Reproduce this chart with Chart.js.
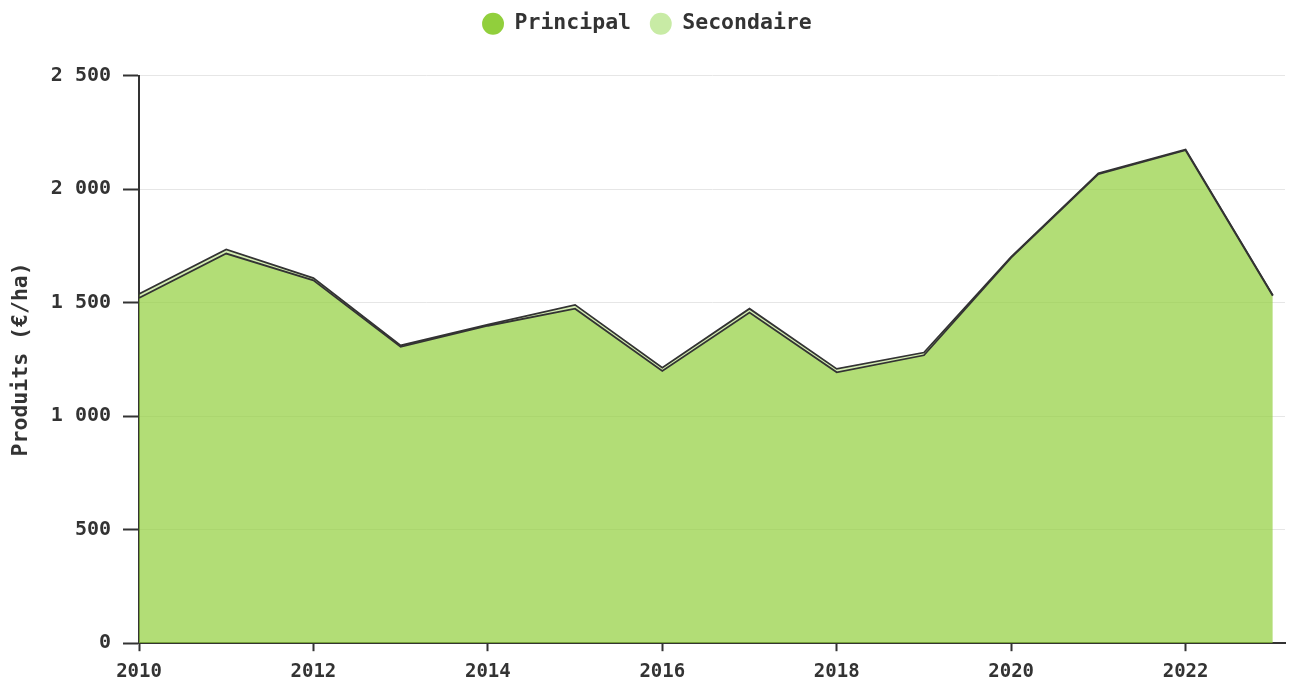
<!DOCTYPE html>
<html>
<head>
<meta charset="utf-8">
<script src="https://cdn.jsdelivr.net/npm/chart.js@4/dist/chart.umd.min.js"></script>
<style>
html,body{margin:0;padding:0;background:#fff;}
#wrap{width:1289px;height:681px;}
</style>
</head>
<body>
<div id="wrap"><canvas id="c" width="1289" height="681"></canvas></div>
<script>
const years = [2010,2011,2012,2013,2014,2015,2016,2017,2018,2019,2020,2021,2022,2023];
const principal = [1520,1716,1598,1305,1398,1473,1199,1456,1193,1268,1698,2066,2171,1530];
const secondaire = [18,18,10,6,5,17,14,17,15,12,3,3,3,2];
const yTicks = [0,500,1000,1500,2000,2500];
const xTicks = [2010,2012,2014,2016,2018,2020,2022];
const seriesNames = ['Principal','Secondaire'];
const legendColors = ['rgb(145,207,60)','rgb(200,235,165)'];

const FONT = '"DejaVu Sans Mono", monospace';
const fmt = v => String(v).replace(/\B(?=(\d{3})+(?!\d))/g, ' ');

const legendSpace = {
  id: 'legendSpace',
  beforeInit(chart) {
    const orig = chart.legend.fit;
    chart.legend.fit = function() {
      orig.call(this);
      this.height += 31;
    };
  }
};

new Chart(document.getElementById('c'), {
  type: 'line',
  data: {
    datasets: [
      {
        label: seriesNames[0],
        data: years.map((y,i)=>({x:y, y:principal[i]})),
        backgroundColor: 'rgba(145,207,60,0.7)',
        borderColor: '#333',
        borderWidth: 1.8,
        pointRadius: 0,
        fill: 'origin',
        tension: 0
      },
      {
        label: seriesNames[1],
        data: years.map((y,i)=>({x:y, y:secondaire[i]})),
        backgroundColor: 'rgba(145,207,60,0.4)',
        borderColor: '#333',
        borderWidth: 1.8,
        pointRadius: 0,
        fill: '-1',
        tension: 0
      }
    ]
  },
  plugins: [legendSpace],
  options: {
    responsive: false,
    animation: false,
    layout: {padding: {left: 9, right: 4, top: -6, bottom: -11}},
    plugins: {
      tooltip: {enabled: false},
      legend: {
        display: true,
        position: 'top',
        labels: {
          usePointStyle: true,
          pointStyle: 'circle',
          boxHeight: 15.5,
          boxWidth: 21.5,
          padding: 19,
          color: '#333',
          font: {family: FONT, size: 21.5, weight: 'bold'},
          generateLabels(chart) {
            const items = Chart.defaults.plugins.legend.labels.generateLabels(chart);
            items.forEach((it, i) => {
              it.fillStyle = legendColors[i];
              it.strokeStyle = legendColors[i];
              it.lineWidth = 0;
            });
            return items;
          }
        }
      }
    },
    scales: {
      x: {
        type: 'linear',
        min: 2010,
        max: 2023.14,
        afterBuildTicks(scale) { scale.ticks = xTicks.map(v => ({value: v})); },
        grid: {display: true, drawOnChartArea: false, drawTicks: true, tickLength: 8, tickColor: '#333', tickWidth: 2},
        border: {display: true, color: '#333', width: 2},
        ticks: {
          color: '#333',
          padding: 9,
          maxRotation: 0,
          font: {family: FONT, size: 19, weight: 'bold'},
          callback: v => String(v)
        }
      },
      y: {
        type: 'linear',
        stacked: true,
        min: 0,
        max: 2500,
        afterBuildTicks(scale) { scale.ticks = yTicks.map(v => ({value: v})); },
        grid: {display: true, color: '#e6e6e6', lineWidth: 1, drawTicks: true, tickLength: 16, tickColor: '#333', tickWidth: 2},
        border: {display: true, color: '#333', width: 2},
        title: {
          display: true,
          text: 'Produits (€/ha)',
          color: '#333',
          padding: {top: 0, bottom: 4},
          font: {family: FONT, size: 21.5, weight: 'bold'}
        },
        ticks: {
          color: '#333',
          padding: 12,
          font: {family: FONT, size: 20, weight: 'bold'},
          callback: v => fmt(v)
        }
      }
    }
  }
});
</script>
</body>
</html>
